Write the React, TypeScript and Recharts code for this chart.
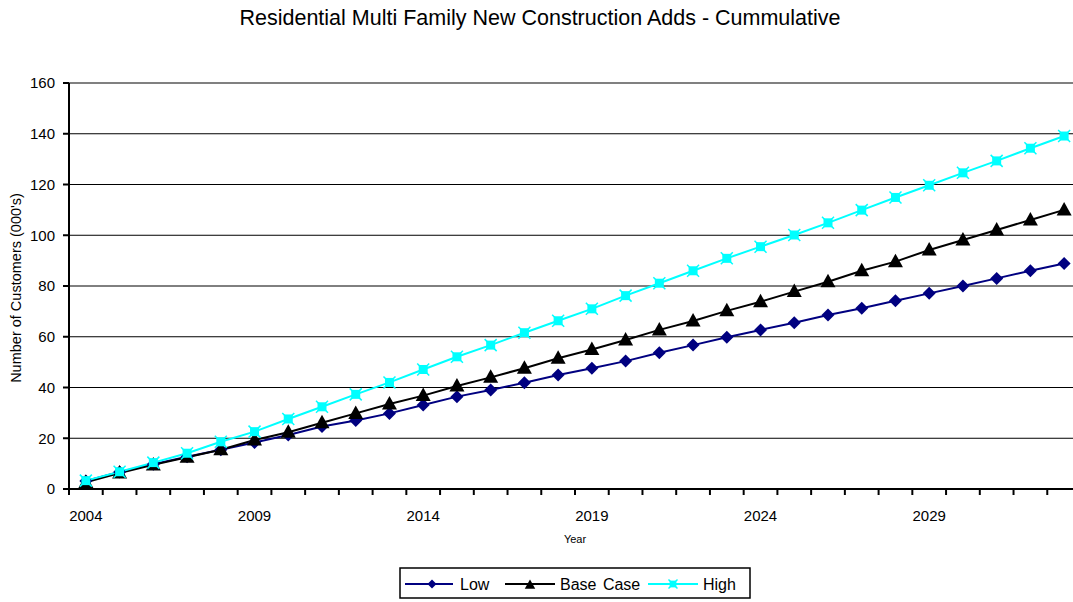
import React from 'react';
import { LineChart, Line, XAxis, YAxis, CartesianGrid, ReferenceLine } from 'recharts';

const years = [
  2004, 2005, 2006, 2007, 2008, 2009, 2010, 2011, 2012, 2013,
  2014, 2015, 2016, 2017, 2018, 2019, 2020, 2021, 2022, 2023,
  2024, 2025, 2026, 2027, 2028, 2029, 2030, 2031, 2032, 2033,
];

const lowValues = [
  3.2, 6.7, 9.8, 12.7, 15.5, 18.3, 21.3, 24.6, 27.0, 29.8,
  33.1, 36.4, 39.0, 41.9, 44.9, 47.6, 50.4, 53.7, 56.7, 59.8,
  62.7, 65.5, 68.6, 71.2, 74.2, 77.1, 80.0, 83.0, 86.0, 88.9,
];

const baseValues = [
  2.6, 6.3, 9.5, 12.5, 15.5, 19.3, 22.4, 26.1, 29.8, 33.5,
  36.8, 40.6, 44.0, 47.6, 51.5, 55.0, 58.7, 62.7, 66.2, 70.2,
  73.8, 77.8, 81.7, 86.0, 89.6, 94.2, 98.1, 102.1, 106.0, 110.0,
];

const highValues = [
  3.3, 6.8, 10.4, 14.1, 18.6, 22.6, 27.6, 32.4, 37.3, 42.0,
  47.1, 52.1, 56.7, 61.6, 66.3, 71.0, 76.2, 81.1, 86.0, 90.9,
  95.5, 100.1, 104.9, 109.9, 114.9, 119.7, 124.6, 129.3, 134.3, 139.1,
];

const yearLabels = [2004, 2009, 2014, 2019, 2024, 2029];
const yTicks = [0, 20, 40, 60, 80, 100, 120, 140, 160];

const FONT = '"Liberation Sans", Arial, sans-serif';
const NAVY = '#000080';
const CYAN = '#00FFFF';

const data = years.map((year, i) => ({
  year,
  low: lowValues[i],
  base: baseValues[i],
  high: highValues[i],
}));

// category boundaries (tick marks sit between years, labels on the years)
const boundaries = [...years.map((y) => y - 0.5), years[years.length - 1] + 0.5];
const xTicks = [...boundaries, ...yearLabels];

const Diamond = ({ cx, cy, r = 6.5 }: { cx: number; cy: number; r?: number }) => (
  <polygon
    points={`${cx},${cy - r} ${cx + r},${cy} ${cx},${cy + r} ${cx - r},${cy}`}
    fill={NAVY}
  />
);

const Triangle = ({ cx, cy, s = 1 }: { cx: number; cy: number; s?: number }) => (
  <polygon
    points={`${cx},${cy - 8 * s} ${cx + 7.5 * s},${cy + 5.5 * s} ${cx - 7.5 * s},${cy + 5.5 * s}`}
    fill="#000"
  />
);

const SquareX = ({ cx, cy, s = 1 }: { cx: number; cy: number; s?: number }) => (
  <g>
    <rect x={cx - 4.5 * s} y={cy - 4.5 * s} width={9 * s} height={9 * s} fill={CYAN} />
    <line x1={cx - 6 * s} y1={cy - 6 * s} x2={cx + 6 * s} y2={cy + 6 * s} stroke={CYAN} strokeWidth={1.5} />
    <line x1={cx - 6 * s} y1={cy + 6 * s} x2={cx + 6 * s} y2={cy - 6 * s} stroke={CYAN} strokeWidth={1.5} />
  </g>
);

const XTick = ({ x, y, payload }: any) => {
  const v = payload.value;
  if (Number.isInteger(v)) {
    return (
      <text x={x} y={y + 32} textAnchor="middle" fontSize={15} fontFamily={FONT} fill="#000">
        {v}
      </text>
    );
  }
  return <line x1={x} x2={x} y1={y} y2={y + 6} stroke="#000" strokeWidth={2} />;
};

const Legend = () => (
  <svg
    width={352}
    height={32}
    style={{ position: 'absolute', left: 399, top: 567 }}
  >
    <rect x={1} y={1} width={350} height={30} fill="#fff" stroke="#000" strokeWidth={1.5} />
    <line x1={6} x2={54} y1={17} y2={17} stroke={NAVY} strokeWidth={2} />
    <Diamond cx={33} cy={17} r={4.5} />
    <text x={61} y={22.5} fontSize={16} fontFamily={FONT}>Low</text>

    <line x1={106} x2={156} y1={17} y2={17} stroke="#000" strokeWidth={2} />
    <Triangle cx={131} cy={18} s={0.7} />
    <text x={161} y={22.5} fontSize={16} fontFamily={FONT} wordSpacing={2}>Base Case</text>

    <line x1={249} x2={299} y1={17} y2={17} stroke={CYAN} strokeWidth={2} />
    <SquareX cx={274} cy={17} s={0.75} />
    <text x={304} y={22.5} fontSize={16} fontFamily={FONT}>High</text>
  </svg>
);

export default function App() {
  return (
    <div
      style={{
        position: 'absolute',
        left: 0,
        top: 0,
        width: 1073,
        height: 602,
        overflow: 'hidden',
        background: '#fff',
        fontFamily: FONT,
      }}
    >
      <div
        style={{
          position: 'absolute',
          left: 0,
          top: 5,
          width: 1080,
          textAlign: 'center',
          fontSize: 21.5,
          lineHeight: '26px',
        }}
      >
        Residential Multi Family New Construction Adds - Cummulative
      </div>

      <LineChart
        width={1090}
        height={602}
        data={data}
        margin={{ top: 83, right: 9, bottom: 83, left: 0 }}
      >
        <CartesianGrid vertical={false} stroke="#000" strokeWidth={1} />
        <ReferenceLine y={160} stroke="#808080" strokeWidth={2} />
        <XAxis
          dataKey="year"
          type="number"
          domain={[boundaries[0], boundaries[boundaries.length - 1]]}
          ticks={xTicks}
          interval={0}
          tick={<XTick />}
          tickLine={false}
          tickSize={0}
          tickMargin={0}
          height={30}
          axisLine={{ stroke: '#000', strokeWidth: 2 }}
        />
        <YAxis
          domain={[0, 160]}
          ticks={yTicks}
          width={69}
          tickSize={6}
          tickMargin={8}
          tick={{ fontSize: 15, fill: '#000', fontFamily: FONT }}
          tickLine={{ stroke: '#000', strokeWidth: 2 }}
          axisLine={{ stroke: '#000', strokeWidth: 2 }}
        />
        <Line
          dataKey="low"
          name="Low"
          stroke={NAVY}
          strokeWidth={2}
          isAnimationActive={false}
          dot={(p: any) => <Diamond key={`l${p.index}`} cx={p.cx} cy={p.cy} />}
        />
        <Line
          dataKey="base"
          name="Base Case"
          stroke="#000"
          strokeWidth={2}
          isAnimationActive={false}
          dot={(p: any) => <Triangle key={`b${p.index}`} cx={p.cx} cy={p.cy} />}
        />
        <Line
          dataKey="high"
          name="High"
          stroke={CYAN}
          strokeWidth={2}
          isAnimationActive={false}
          dot={(p: any) => <SquareX key={`h${p.index}`} cx={p.cx} cy={p.cy} />}
        />
      </LineChart>

      <div
        style={{
          position: 'absolute',
          left: 16,
          top: 288,
          transform: 'translate(-50%, -50%) rotate(-90deg)',
          whiteSpace: 'nowrap',
          fontSize: 14.5,
        }}
      >
        Number of Customers (000's)
      </div>

      <div
        style={{
          position: 'absolute',
          left: 575,
          top: 539,
          transform: 'translate(-50%, -50%)',
          fontSize: 11,
        }}
      >
        Year
      </div>

      <Legend />
    </div>
  );
}
